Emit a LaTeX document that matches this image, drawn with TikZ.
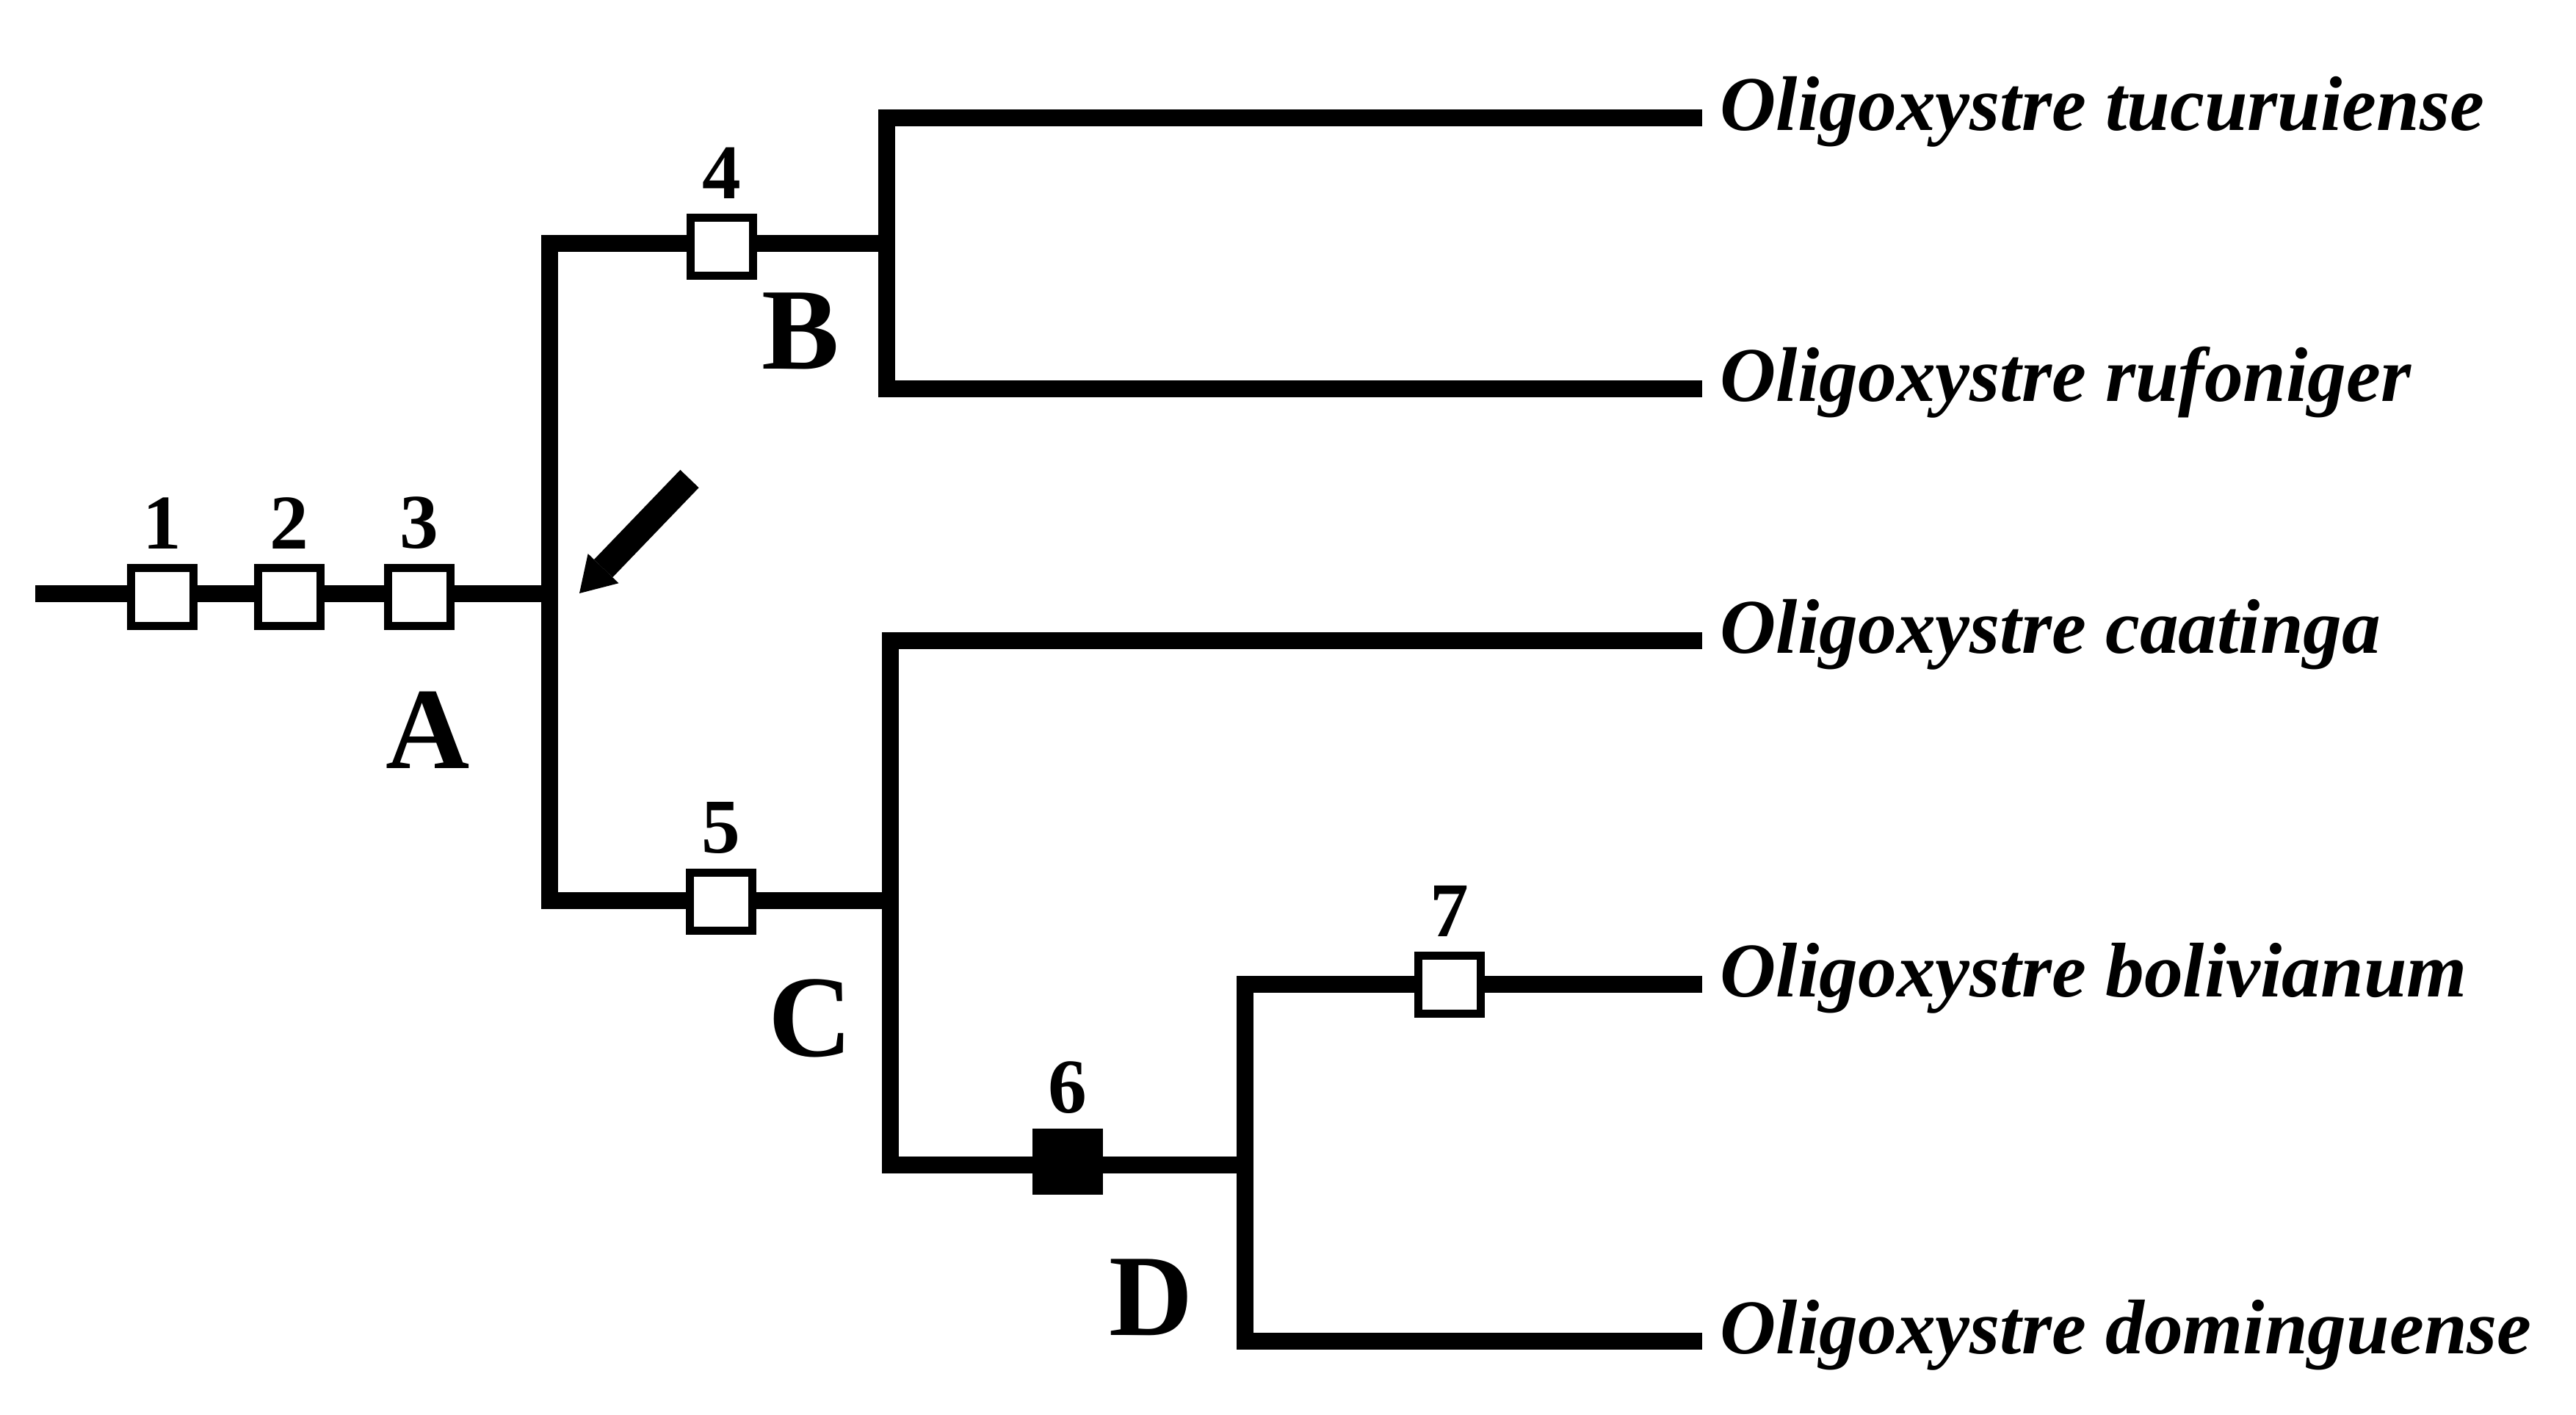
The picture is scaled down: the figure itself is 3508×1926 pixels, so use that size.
\documentclass[tikz,border=0pt]{standalone}
\usepackage{fontspec}
\setmainfont{Liberation Serif}
\usetikzlibrary{arrows.meta}

\tikzset{
  branch/.style={line width=0.23cm},
  synapo/.style={draw, line width=0.11cm, fill=white, minimum width=0.84cm,
    minimum height=0.79cm, inner sep=0pt},
  homopl/.style={synapo, fill=black},
  charnum/.style={font=\fontsize{30}{30}\selectfont\bfseries, inner sep=0pt, yshift=0.2cm},
  cladelab/.style={font=\fontsize{45}{45}\selectfont\bfseries, inner sep=0pt, anchor=base},
  taxon/.style={font=\fontsize{30}{30}\selectfont\bfseries\itshape, inner sep=0pt,
    anchor=base west, xshift=0.24cm, yshift=-0.17cm},
  pointer/.style={line width=0.35cm, -{Triangle[length=0.47cm,width=0.58cm,line width=0pt]}}
}

\begin{document}
\begin{tikzpicture}[x=0.01cm,y=-0.01cm]
  \useasboundingbox (0,0) rectangle (3508,1926);

  % inner nodes of the tree
  \coordinate (root) at (48,808);
  \coordinate (nA) at (748,808);
  \coordinate (nB) at (1207,331);
  \coordinate (nC) at (1212,1226);
  \coordinate (nD) at (1695,1586);
  % tips
  \coordinate (t1) at (2318,160);
  \coordinate (t2) at (2318,529);
  \coordinate (t3) at (2318,872);
  \coordinate (t4) at (2318,1340);
  \coordinate (t5) at (2318,1826);

  \draw[branch] (root) -- (nA);
  \draw[branch] (nB) -| (nA) |- (nC);
  \draw[branch] (t1) -| (nB) |- (t2);
  \draw[branch] (t3) -| (nC) |- (nD);
  \draw[branch] (t4) -| (nD) |- (t5);

  % characters on the branches
  \node[synapo, label={[charnum]above:1}] (c1) at (221,813) {};
  \node[synapo, label={[charnum]above:2}] (c2) at (394,813) {};
  \node[synapo, label={[charnum]above:3}] (c3) at (571,813) {};
  \node[synapo, label={[charnum]above:4}] (c4) at (983,336) {};
  \node[synapo, label={[charnum]above:5}] (c5) at (982,1228) {};
  \node[homopl, label={[charnum]above:6}] (c6) at (1454,1582) {};
  \node[synapo, label={[charnum]above:7}] (c7) at (1974,1341) {};

  % clade letters
  \node[cladelab] (labA) at (583,1046) {A};
  \node[cladelab] (labB) at (1090,502) {B};
  \node[cladelab] (labC) at (1104,1438) {C};
  \node[cladelab] (labD) at (1568,1818) {D};

  % arrow
  \coordinate (ptail) at (939,652);
  \coordinate (ptip) at (789,808);
  \draw[pointer] (ptail) -- (ptip);

  % taxa
  \node[taxon] (s1) at (t1) {Oligoxystre tucuruiense};
  \node[taxon] (s2) at (t2) {Oligoxystre rufoniger};
  \node[taxon] (s3) at (t3) {Oligoxystre caatinga};
  \node[taxon] (s4) at (t4) {Oligoxystre bolivianum};
  \node[taxon] (s5) at (t5) {Oligoxystre dominguense};
\end{tikzpicture}
\end{document}
